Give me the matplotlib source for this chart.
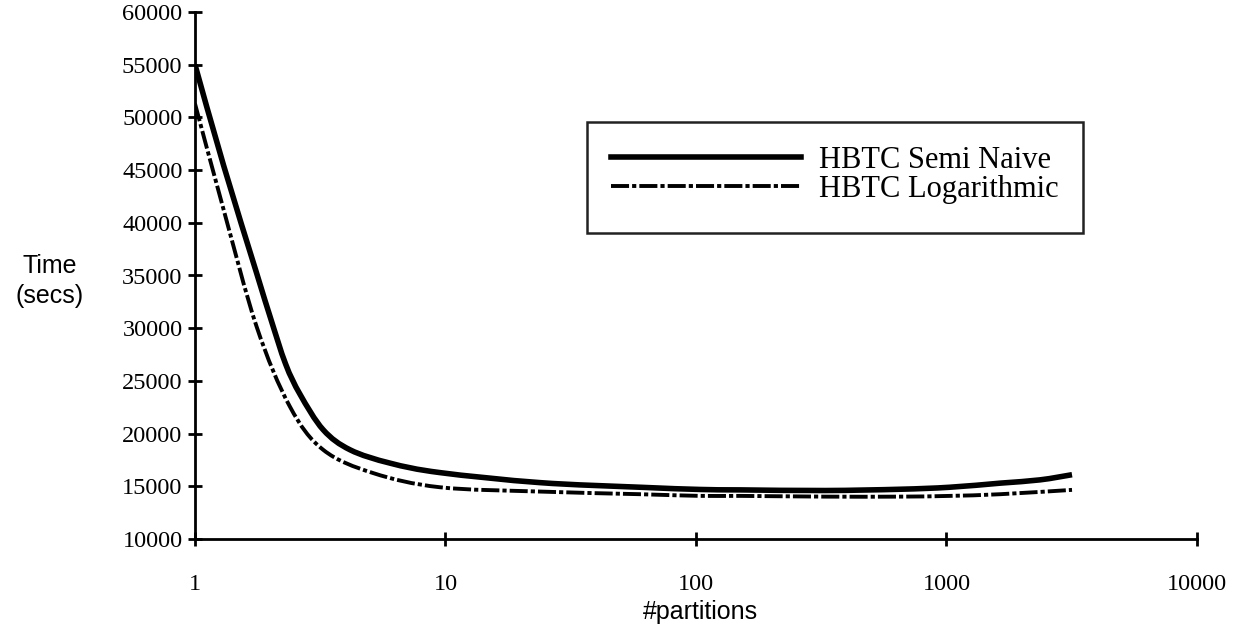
import numpy as np
import matplotlib
matplotlib.use("Agg")
import matplotlib.pyplot as plt
from matplotlib.patches import Rectangle, PathPatch
from matplotlib.path import Path

# values
semi_x = [1, 1.3, 1.76, 2.0, 2.3, 2.63, 3.25, 4.16, 6.0, 9.5, 23.8, 59.8, 104, 150, 328, 652, 1030, 1640, 2360, 3170]
semi_y = [55000, 45460, 35260, 31000, 26600, 23700, 20360, 18460, 17200, 16300, 15350, 14910, 14700, 14660, 14600, 14720, 14910, 15300, 15610, 16100]

log_x = [1, 1.3, 1.76, 2.39, 3.25, 5.15, 9.5, 23.8, 59.8, 104, 150, 328, 652, 1030, 1640, 3170]
log_y = [51300, 41270, 30180, 22580, 18460, 16250, 14910, 14500, 14250, 14090, 14090, 14020, 14020, 14090, 14250, 14660]

x_ticks = [1, 10, 100, 1000, 10000]
y_ticks = list(range(10000, 60001, 5000))

serif = "Liberation Serif"
sans = "Liberation Sans"
plt.rcParams["lines.scale_dashes"] = False


def smooth_path(xs, ys):
    # Excel-style smoothed line: Catmull-Rom segments as cubic Beziers,
    # built in log-x space so the curve is smooth on the log axis
    u = np.log10(xs)
    v = np.asarray(ys, dtype=float)
    n = len(u)
    verts = [(u[0], v[0])]
    codes = [Path.MOVETO]
    for i in range(n - 1):
        p0 = (u[max(i - 1, 0)], v[max(i - 1, 0)])
        p1 = (u[i], v[i])
        p2 = (u[i + 1], v[i + 1])
        p3 = (u[min(i + 2, n - 1)], v[min(i + 2, n - 1)])
        c1 = (p1[0] + (p2[0] - p0[0]) / 6, p1[1] + (p2[1] - p0[1]) / 6)
        c2 = (p2[0] - (p3[0] - p1[0]) / 6, p2[1] - (p3[1] - p1[1]) / 6)
        verts += [c1, c2, p2]
        codes += [Path.CURVE4] * 3
    verts = [(10 ** a, b) for a, b in verts]
    return Path(verts, codes)


fig = plt.figure(figsize=(12.44, 6.38), dpi=100)
ax = fig.add_axes([195 / 1244, 1 - 539 / 638, 1002 / 1244, 527 / 638])

ax.add_patch(PathPatch(smooth_path(semi_x, semi_y), fill=False, color="black",
                       lw=4, joinstyle="round"))
ax.add_patch(PathPatch(smooth_path(log_x, log_y), fill=False, color="black",
                       lw=2.8, linestyle=(0, (13, 2.2, 3, 2.2)), capstyle="butt"))

# legend entries only
ax.plot([], [], color="black", lw=4, label="HBTC Semi Naive")
ax.plot([], [], color="black", lw=2.8, dashes=(13, 2.2, 3, 2.2),
        dash_capstyle="butt", label="HBTC Logarithmic")

ax.set_xscale("log")
ax.set_xlim(1, 10000)
ax.set_ylim(10000, 60000)
ax.set_xticks(x_ticks)
ax.set_xticklabels([str(t) for t in x_ticks])
ax.xaxis.set_minor_locator(matplotlib.ticker.NullLocator())
ax.set_yticks(y_ticks)
ax.set_yticklabels([str(t) for t in y_ticks])

for s in ["top", "right"]:
    ax.spines[s].set_visible(False)
for s in ["left", "bottom"]:
    ax.spines[s].set_linewidth(2)
ax.tick_params(axis="both", direction="inout", length=10, width=2,
               labelsize=17.5)
ax.tick_params(axis="y", pad=4)
ax.tick_params(axis="x", pad=20)
for lab in ax.get_xticklabels() + ax.get_yticklabels():
    lab.set_family(serif)

# legend box
box = Rectangle(((587 - 195) / 1002, (539 - 233) / 527), 496 / 1002, 111 / 527,
                transform=ax.transAxes, fill=False, lw=1.8, edgecolor="#222222")
ax.add_patch(box)
ax.legend(loc="center", bbox_to_anchor=((835 - 195) / 1002, (539 - 175) / 527),
          frameon=False, prop={"family": serif, "size": 22}, handlelength=6.2,
          handletextpad=0.6, labelspacing=0.0)

fig.text(50 / 1244, 1 - 281 / 638, "Time\n(secs)", ha="center", va="center",
         family=sans, fontsize=18, linespacing=1.35)
fig.text(700 / 1244, 1 - 612 / 638, "#partitions", ha="center", va="center",
         family=sans, fontsize=18)

fig.savefig("out.png", dpi=100)
